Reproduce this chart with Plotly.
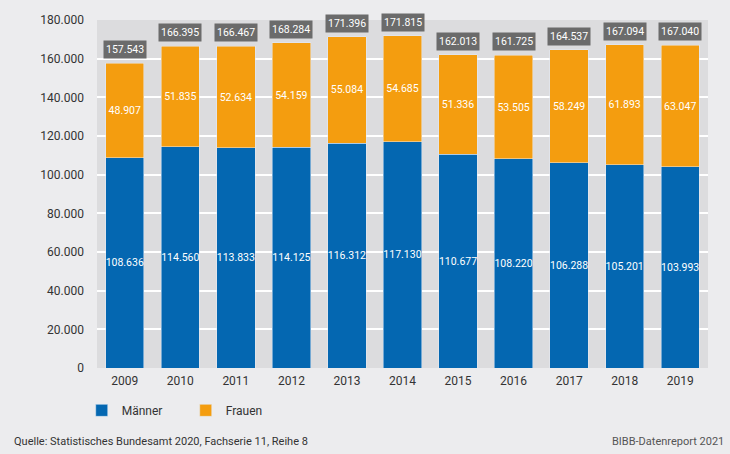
import plotly.graph_objects as go

years = ["2009", "2010", "2011", "2012", "2013", "2014", "2015", "2016", "2017", "2018", "2019"]
maenner = [108636, 114560, 113833, 114125, 116312, 117130, 110677, 108220, 106288, 105201, 103993]
frauen = [48907, 51835, 52634, 54159, 55084, 54685, 51336, 53505, 58249, 61893, 63047]
gesamt = [157543, 166395, 166467, 168284, 171396, 171815, 162013, 161725, 164537, 167094, 167040]

BLUE = "#0467b1"
ORANGE = "#f49d0f"
FONT = "Roboto, sans-serif"


def de(n):
    # German thousands separator
    return f"{n:,}".replace(",", ".")


fig = go.Figure()
fig.add_bar(x=years, y=maenner, name="Männer", marker_color=BLUE,
            text=[de(v) for v in maenner], textposition="inside", insidetextanchor="middle",
            textangle=0, constraintext="none",
            textfont=dict(color="white", size=10.5), width=0.69)
fig.add_bar(x=years, y=frauen, name="Frauen", marker_color=ORANGE,
            text=[de(v) for v in frauen], textposition="inside", insidetextanchor="middle",
            textangle=0, constraintext="none",
            textfont=dict(color="white", size=10.5), width=0.69)

# total labels above bars (category index on x)
for i, tot in enumerate(gesamt):
    fig.add_annotation(x=i, y=tot, text=de(tot), showarrow=False, yanchor="bottom", yshift=4,
                       bgcolor="#6b6b6b", font=dict(color="white", size=10.5, family=FONT),
                       borderpad=2)

fig.add_annotation(x=0, y=0, xref="paper", yref="paper", xanchor="left", yanchor="top",
                   xshift=-85, yshift=-65, showarrow=False,
                   text="Quelle: Statistisches Bundesamt 2020, Fachserie 11, Reihe 8",
                   font=dict(size=11, color="#333333", family=FONT))
fig.add_annotation(x=1, y=0, xref="paper", yref="paper", xanchor="right", yanchor="top",
                   xshift=18, yshift=-65, showarrow=False, text="BIBB-Datenreport 2021",
                   font=dict(size=11, color="#555555", family=FONT))

fig.update_layout(
    width=730, height=454,
    barmode="stack",
    paper_bgcolor="#ececee",
    plot_bgcolor="#dcdcde",
    font=dict(family=FONT, size=12, color="#333333"),
    margin=dict(l=97, r=22, t=20, b=86),
    legend=dict(orientation="h", x=-0.025, y=-0.08, xanchor="left", yanchor="top",
                font=dict(size=12), traceorder="normal", entrywidth=59),
    uniformtext=dict(minsize=8, mode="show"),
    showlegend=True,
    separators=",.",
)
fig.update_yaxes(range=[0, 180000], dtick=20000, tickformat=",d",
                 gridcolor="white", gridwidth=1.5, zeroline=False, ticks="", ticklabelstandoff=12)
fig.update_xaxes(type="category", range=[-0.5, 10.5], showgrid=False, ticks="", ticklabelstandoff=4)

# drop the page's default body margin so the figure sits at the window's corner
fig.write_html("out.html", config={"displayModeBar": False},
               post_script="document.body.style.margin='0';")
